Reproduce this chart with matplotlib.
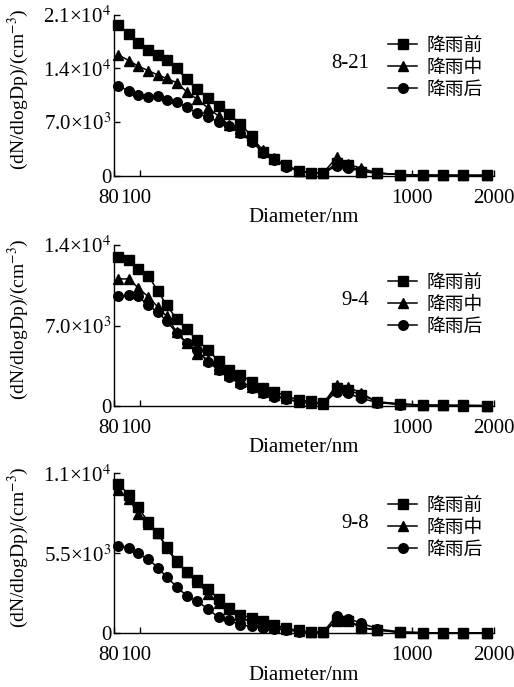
import matplotlib
matplotlib.use("Agg")
import matplotlib.pyplot as plt
from matplotlib.font_manager import FontProperties
from matplotlib.ticker import FixedLocator, NullLocator, FixedFormatter
from matplotlib.transforms import ScaledTranslation

plt.rcParams['font.family'] = ['Liberation Serif', 'DejaVu Serif']
plt.rcParams['mathtext.fontset'] = 'stix'

# ---- data ----
diameters = [83, 91, 98, 107, 116, 125, 136, 148, 162, 178, 194, 212, 233, 257,
             283, 311, 343, 382, 426, 470, 527, 581, 651, 745, 900, 1097, 1293, 1538, 1889]

series_names = ["降雨前", "降雨中", "降雨后"]
dates = ["8-21", "9-4", "9-8"]

p1_before = [19650, 18480, 17260, 16390, 15740, 15090, 14000, 12570, 11270, 10090, 9090, 8050, 6740, 5180,
             3130, 2140, 1400, 650, 390, 310, 1620, 1400, 520, 330, 150, 60, 50, 40, 40]
p1_during = [15740, 15000, 14300, 13700, 13130, 12700, 12130, 10960, 9960, 8790, 7780, 6610, 5700, 4700,
             3350, 2260, 1350, 600, 350, 300, 2400, 1500, 960, 350, 150, 60, 50, 40, 40]
p1_after = [11700, 11040, 10520, 10220, 10390, 9870, 9650, 8920, 8140, 7610, 7040, 6480, 5550, 4450,
            3000, 2050, 1200, 600, 350, 300, 1300, 1000, 600, 330, 150, 60, 50, 40, 40]

p2_before = [12950, 12665, 11915, 11310, 10010, 8745, 7585, 6665, 5710, 4845, 3900, 3170, 2685, 2120,
             1600, 1240, 900, 520, 400, 230, 1530, 1390, 950, 370, 200, 80, 60, 50, 30]
p2_during = [11050, 11050, 10290, 9490, 8600, 7800, 6420, 5500, 4550, 3970, 3250, 2680, 2100, 1670,
             1240, 950, 660, 370, 230, 170, 1820, 1670, 1100, 350, 150, 70, 50, 40, 30]
p2_after = [9575, 9635, 9535, 8775, 8135, 7400, 6335, 5455, 4840, 3830, 3110, 2530, 1900, 1530,
            1090, 810, 600, 370, 290, 170, 1240, 1100, 660, 300, 130, 60, 50, 40, 30]

p3_before = [10250, 9520, 8660, 7650, 6900, 5920, 4980, 4210, 3670, 3040, 2340, 1760, 1290, 1050,
             820, 590, 350, 200, 70, 60, 930, 870, 350, 230, 60, 40, 20, 20, 20]
p3_during = [9830, 9240, 8190, 7490, 6900, 5850, 4910, 4210, 3510, 2690, 2110, 1640, 1050, 820,
             590, 450, 300, 180, 60, 60, 850, 900, 400, 230, 60, 40, 20, 20, 20]
p3_after = [6010, 5850, 5500, 5080, 4520, 3860, 3210, 2570, 2220, 1640, 1100, 890, 590, 470,
            350, 300, 230, 120, 70, 70, 1200, 1000, 700, 300, 100, 40, 20, 20, 20]

panels = [(p1_before, p1_during, p1_after), (p2_before, p2_during, p2_after), (p3_before, p3_during, p3_after)]

ytick_vals = [[0, 7000, 14000, 21000], [0, 7000, 14000], [0, 5500, 11000]]
ytick_labels = [["0", r"7.0×10$^{3}$", r"1.4×10$^{4}$", r"2.1×10$^{4}$"],
                ["0", r"7.0×10$^{3}$", r"1.4×10$^{4}$"],
                ["0", r"5.5×10$^{3}$", r"1.1×10$^{4}$"]]
xtick_vals = [80, 100, 1000, 2000]
xtick_labels = ["80", "100", "1000", "2000"]

W, H = 514, 687
fig = plt.figure(figsize=(W / 100, H / 100), dpi=100)

# axes geometry in pixels: (top, bottom)
ax_boxes = [(14.7, 175.7), (245.0, 406.0), (473.3, 633.3)]
left_px, right_px = 114, 494

markers = ['s', '^', 'o']
msizes = [6.8, 7.2, 6.9]
cjk = FontProperties(family=['Noto Sans CJK SC', 'DejaVu Sans'], size=13.5)

legend_tops = [35, 272, 495]
date_pos = [(350, 63), (355, 301), (355, 523)]
xlabel_shift_px = [-5, -4.5, 0, 0]

for i, (series, (top, bot)) in enumerate(zip(panels, ax_boxes)):
    ax = fig.add_axes([left_px / W, 1 - bot / H, (right_px - left_px) / W, (bot - top) / H])
    handles = []
    for vals, m, ms in zip(series, markers, msizes):
        h, = ax.plot(diameters, vals, color='black', lw=1.1, marker=m, ms=ms,
                     markerfacecolor='black', markeredgecolor='black', clip_on=False, zorder=3)
        handles.append(h)
    ax.set_xscale('log')
    ax.set_xlim(80, 2000)
    ax.set_ylim(0, ytick_vals[i][-1])
    ax.xaxis.set_major_locator(FixedLocator(xtick_vals))
    ax.xaxis.set_major_formatter(FixedFormatter(xtick_labels))
    ax.xaxis.set_minor_locator(NullLocator())
    ax.set_yticks(ytick_vals[i])
    ax.set_yticklabels(ytick_labels[i])
    ax.spines['top'].set_visible(False)
    ax.spines['right'].set_visible(False)
    for s in ['left', 'bottom']:
        ax.spines[s].set_linewidth(1.0)
    ax.tick_params(axis='both', direction='in', length=4, width=1.0, labelsize=15)
    ax.tick_params(axis='y', pad=2)
    ax.tick_params(axis='x', pad=9.5)
    ax.patch.set_alpha(0)
    for lab, dx in zip(ax.get_xticklabels(), xlabel_shift_px):
        lab.set_transform(lab.get_transform() + ScaledTranslation(dx / 100, 0, fig.dpi_scale_trans))

    ax.legend(handles, series_names, prop=cjk, frameon=False, loc='upper left',
              bbox_to_anchor=(388 / W, 1 - legend_tops[i] / H), bbox_transform=fig.transFigure,
              borderpad=0, borderaxespad=0, handlelength=1.55, handletextpad=0.5,
              labelspacing=0.05)
    fig.text(date_pos[i][0] / W, 1 - date_pos[i][1] / H, dates[i], fontsize=15,
             ha='center', va='center')
    fig.text((left_px + 190) / W, 1 - (bot + 42) / H, "Diameter/nm", fontsize=15,
             ha='center', va='center')
    fig.text(18 / W, 1 - ((top + bot) / 2 - 6) / H, r"(dN/dlogDp)/(cm$^{-3}$)", fontsize=14,
             rotation=90, ha='center', va='center')

fig.savefig("out.png", dpi=100)
